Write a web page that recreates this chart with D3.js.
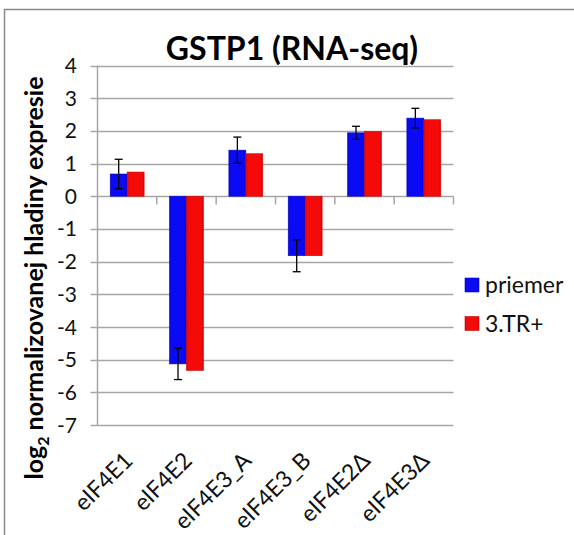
<!DOCTYPE html>
<html>
<head>
<meta charset="utf-8">
<script src="https://cdn.jsdelivr.net/npm/d3@7"></script>
<style>
  html, body { margin: 0; padding: 0; background: #fff; }
  svg { display: block; }
  text { font-family: Lato, "Open Sans", sans-serif; }
</style>
</head>
<body>
<svg id="chart" width="574" height="535"></svg>
<script>
// GSTP1 expression, log2 normalised levels per eIF4E variant
const categories = ["eIF4E1", "eIF4E2", "eIF4E3_A", "eIF4E3_B", "eIF4E2\u0394", "eIF4E3\u0394"];
const seriesNames = ["priemer", "3.TR+"];
const priemer = [0.68, -5.13, 1.41, -1.82, 1.94, 2.39];
const tr3 = [0.74, -5.33, 1.30, -1.82, 1.98, 2.34];
const priemerErr = [0.45, 0.48, 0.40, 0.49, 0.20, 0.30];
const yTicks = [4, 3, 2, 1, 0, -1, -2, -3, -4, -5, -6, -7];
const colors = ["#0a0af5", "#f50a0a"];

const svg = d3.select("#chart");

// outer frame (top and left edges only are visible)
svg.append("path")
  .attr("d", "M4.5,535 V9.5 H574")
  .attr("fill", "none").attr("stroke", "#888").attr("stroke-width", 1.5);

const plot = { left: 97.5, right: 453.5, top: 65.5, bottom: 425 };

const x = d3.scaleBand().domain(categories).range([plot.left, plot.right]).paddingInner(0).paddingOuter(0);
const y = d3.scaleLinear().domain([-7, 4]).range([plot.bottom, plot.top]);
const barW = x.bandwidth() / 3.5;

// gradients giving the bars a soft bevelled look
const defs = svg.append("defs");
colors.forEach((c, i) => {
  const g = defs.append("linearGradient").attr("id", "bar" + i)
    .attr("x1", 0).attr("x2", 1).attr("y1", 0).attr("y2", 0);
  const base = d3.rgb(c);
  g.append("stop").attr("offset", 0).attr("stop-color", base.darker(0.5));
  g.append("stop").attr("offset", 0.12).attr("stop-color", base);
  g.append("stop").attr("offset", 0.88).attr("stop-color", base);
  g.append("stop").attr("offset", 1).attr("stop-color", base.darker(0.5));
});

// horizontal gridlines with small left ticks
svg.append("g").selectAll("line").data(yTicks).join("line")
  .attr("x1", plot.left - 7).attr("x2", plot.right)
  .attr("y1", d => Math.round(y(d)) + 0.5).attr("y2", d => Math.round(y(d)) + 0.5)
  .attr("stroke", "#a6a6a6").attr("stroke-width", 1.5);

// vertical value axis
svg.append("line")
  .attr("x1", plot.left).attr("x2", plot.left)
  .attr("y1", plot.top).attr("y2", plot.bottom)
  .attr("stroke", "#a6a6a6").attr("stroke-width", 1.5);

// category tick marks on the zero line
const y0 = Math.round(y(0)) + 0.5;
svg.append("g").selectAll("line").data(categories).join("line")
  .attr("x1", d => x(d) + x.bandwidth()).attr("x2", d => x(d) + x.bandwidth())
  .attr("y1", y0).attr("y2", y0 + 8)
  .attr("stroke", "#a6a6a6").attr("stroke-width", 1.5);

// y tick labels
svg.append("g").selectAll("text").data(yTicks).join("text")
  .attr("x", 77).attr("y", d => y(d)).attr("dy", "0.36em")
  .attr("text-anchor", "end").attr("font-size", 21).attr("fill", "#111")
  .text(d => d);

// bars
const data = [priemer, tr3];
data.forEach((vals, si) => {
  svg.append("g").selectAll("rect").data(categories).join("rect")
    .attr("x", (d) => x(d) + x.bandwidth() / 2 - barW + si * barW)
    .attr("width", barW)
    .attr("y", (d, i) => y(Math.max(0, vals[i])))
    .attr("height", (d, i) => Math.abs(y(vals[i]) - y(0)))
    .attr("fill", `url(#bar${si})`)
    .attr("stroke", d3.rgb(colors[si]).darker(0.6)).attr("stroke-width", 0.6);
});

// error bars on the first series
const eb = svg.append("g").attr("stroke", "#000").attr("stroke-width", 1.3);
categories.forEach((c, i) => {
  const cx = x(c) + x.bandwidth() / 2 - barW / 2;
  const hi = y(priemer[i] + priemerErr[i]);
  const lo = y(priemer[i] - priemerErr[i]);
  eb.append("line").attr("x1", cx).attr("x2", cx).attr("y1", hi).attr("y2", lo);
  eb.append("line").attr("x1", cx - 4).attr("x2", cx + 4).attr("y1", hi).attr("y2", hi);
  eb.append("line").attr("x1", cx - 4).attr("x2", cx + 4).attr("y1", lo).attr("y2", lo);
});

// rotated category labels
svg.append("g").selectAll("text").data(categories).join("text")
  .attr("transform", d => `translate(${x(d) + x.bandwidth() / 2 + 7},${462}) rotate(-45)`)
  .attr("text-anchor", "end").attr("font-size", 23).attr("fill", "#111")
  .text(d => d);

// title
svg.append("text")
  .attr("x", 292).attr("y", 60)
  .attr("text-anchor", "middle").attr("font-size", 32).attr("font-weight", "bold").attr("fill", "#000")
  .text("GSTP1 (RNA-seq)");

// y axis title with subscript
const yt = svg.append("text")
  .attr("transform", "translate(43,278) rotate(-90)")
  .attr("text-anchor", "middle").attr("font-size", 25).attr("font-weight", "bold").attr("fill", "#000");
yt.append("tspan").text("log");
yt.append("tspan").attr("font-size", 16).attr("dy", 6).text("2");
yt.append("tspan").attr("dy", -6).text(" normalizovanej hladiny expresie");

// legend
const legend = svg.append("g");
seriesNames.forEach((name, i) => {
  const ly = 278 + i * 38.5;
  legend.append("rect").attr("x", 465).attr("y", ly).attr("width", 14).attr("height", 14)
    .attr("fill", `url(#bar${i})`).attr("stroke", d3.rgb(colors[i]).darker(0.6)).attr("stroke-width", 0.6);
  legend.append("text").attr("x", 485).attr("y", ly + 7).attr("dy", "0.36em")
    .attr("font-size", 23).attr("fill", "#111").text(name);
});
</script>
</body>
</html>
